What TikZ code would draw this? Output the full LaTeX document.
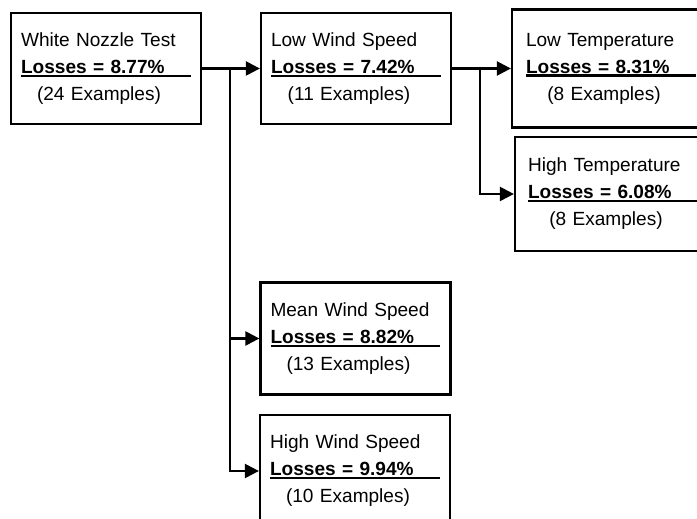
\documentclass[tikz,border=0pt]{standalone}
\usepackage{fontspec}
\setmainfont{Liberation Sans}
\usetikzlibrary{arrows.meta}
\newcommand{\leaftext}[3]{#1\\\makebox[0pt][l]{\rule[-2pt]{3.4cm}{1.2pt}}\textbf{Losses = #2\%}\\\makebox[3.12cm]{(#3 Examples)}}
\begin{document}
\begin{tikzpicture}[x=0.02cm,y=-0.02cm,
  box/.style={draw, line width=1.3pt, inner xsep=0.2cm, text width=3.4cm, align=left,
    minimum height=2.22cm, font=\fontsize{10.85}{15.4}\selectfont},
  arr/.style={-{Triangle[length=0.28cm,width=0.28cm]}, line width=1.3pt}]
\clip (0,0) rectangle (697,519);
\node[box] (root) at (106,68.5) {\leaftext{White Nozzle Test}{8.77}{24}};
\node[box] (lowws) at (356,68.5) {\leaftext{Low Wind Speed}{7.42}{11}};
\node[box, minimum height=2.36cm, inner xsep=0.28cm] (lowtemp) at (611,68.5) {\leaftext{Low Temperature}{8.31}{8}};
\node[box, minimum height=2.28cm, inner xsep=0.26cm] (hightemp) at (613,194) {\leaftext{High Temperature}{6.08}{8}};
\node[box, minimum height=2.24cm] (meanws) at (355.5,338.5) {\leaftext{Mean Wind Speed}{8.82}{13}};
\node[box, minimum height=2.24cm] (highws) at (355,471) {\leaftext{High Wind Speed}{9.94}{10}};
\coordinate (j1) at (230,68.5);
\coordinate (j2) at (480,68.5);
\draw[arr] (root) -- (lowws);
\draw[arr] (j1) |- (meanws.west);
\draw[arr] (j1) |- (highws.west);
\draw[arr] (lowws) -- (lowtemp);
\draw[arr] (j2) |- (hightemp.west);
\end{tikzpicture}
\end{document}
